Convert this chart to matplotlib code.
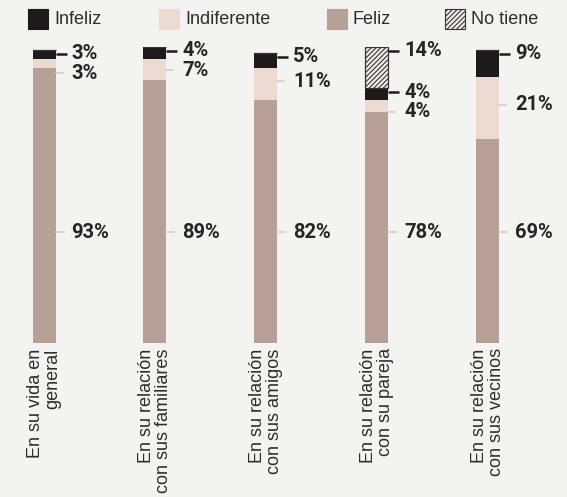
import matplotlib.pyplot as plt
from matplotlib.patches import Rectangle

# Datos (porcentajes)
categorias = ["En su vida en\ngeneral",
              "En su relación\ncon sus familiares",
              "En su relación\ncon sus amigos",
              "En su relación\ncon su pareja",
              "En su relación\ncon sus vecinos"]
feliz = [93, 89, 82, 78, 69]
indiferente = [3, 7, 11, 4, 21]
infeliz = [3, 4, 5, 4, 9]
no_tiene = [0, 0, 0, 14, 0]

c_infeliz = "#1c1a1a"
c_indif = "#ecdad0"
c_feliz = "#b7a096"
c_hatch_face = "#f1ece8"
c_text = "#262424"
c_tick = "#d9cbc3"
bg = "#f3f3f2"

plt.rcParams["hatch.linewidth"] = 0.8
plt.rcParams["hatch.color"] = "#4a4444"

fig = plt.figure(figsize=(5.67, 4.97), dpi=100)
fig.patch.set_facecolor(bg)

W, H = 567, 497
x0, step = 44, 110.9
ax = fig.add_axes([0, (H - 343) / H, 1, 296 / H])
ax.set_facecolor("none")
ax.set_xlim(-x0 / step, (W - x0) / step)
ax.set_ylim(0, 100)
ax.axis("off")

px = 1 / step
bw = 23 * px
xs = list(range(len(categorias)))

ax.bar(xs, feliz, width=bw, color=c_feliz)
b1 = [f for f in feliz]
ax.bar(xs, indiferente, width=bw, bottom=b1, color=c_indif)
b2 = [a + b for a, b in zip(b1, indiferente)]
ax.bar(xs, infeliz, width=bw, bottom=b2, color=c_infeliz)
b3 = [a + b for a, b in zip(b2, infeliz)]
ax.bar(xs, no_tiene, width=bw, bottom=b3, color=c_hatch_face,
       edgecolor="#3a3434", linewidth=0.9, hatch="///////")

lab_font = dict(family="Roboto", fontsize=14.5, fontweight="bold", color=c_text,
                va="center", ha="left")

for i in xs:
    right = i + bw / 2
    lx = right + 16 * px
    tops = []
    # etiquetas superiores (No tiene / Infeliz) con línea oscura
    if no_tiene[i]:
        tops.append((b3[i] + no_tiene[i], no_tiene[i]))
    tops.append((b3[i], infeliz[i]))
    prev = None
    for top, val in tops:
        y = top - 1.3
        ax.plot([right, right + 11 * px], [y, y], color=c_infeliz, lw=1.8,
                solid_capstyle="butt")
        ax.text(lx, y, f"{val}%", **lab_font)
        prev = y
    # Indiferente
    yi = min(b1[i] + indiferente[i] / 2 + 1, prev - 6.5)
    ax.plot([right, right + 7 * px], [yi, yi], color=c_tick, lw=1.2)
    ax.text(lx, yi, f"{indiferente[i]}%", **lab_font)
    # Feliz
    yf = 37.5
    ax.plot([right, right + 8 * px], [yf, yf], color=c_tick, lw=1.2)
    ax.text(lx, yf, f"{feliz[i]}%", **lab_font)

# etiquetas de categoría, giradas
for i, cat in enumerate(categorias):
    ax.text(i, -1.8, cat, rotation=90, ha="center", va="top",
            multialignment="right", linespacing=1.0,
            family="Liberation Sans", fontsize=13, color="#2e2c2c",
            clip_on=False)

# leyenda manual
leyenda = [("Infeliz", c_infeliz, None, 28),
           ("Indiferente", c_indif, None, 159),
           ("Feliz", c_feliz, None, 327),
           ("No tiene", c_hatch_face, "///////", 445)]
for nombre, color, hatch, xl in leyenda:
    r = Rectangle((xl / W, (H - 29) / H), 20 / W, 20 / H, transform=fig.transFigure,
                  facecolor=color, hatch=hatch,
                  edgecolor="#3a3434" if hatch else color, linewidth=0.8)
    fig.add_artist(r)
    fig.text((xl + 26) / W, (H - 19) / H, nombre, ha="left", va="center",
             family="Liberation Sans", fontsize=13, color="#2e2c2c")

fig.savefig("out.png", dpi=100, facecolor=bg)
